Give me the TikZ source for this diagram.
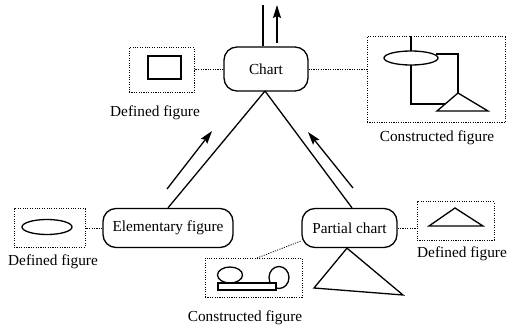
\documentclass[tikz,border=0pt]{standalone}
\usepackage{fontspec}
\setmainfont{Liberation Serif}
\usetikzlibrary{arrows.meta,calc}
\begin{document}
\begin{tikzpicture}[x=1pt,y=-1pt,
  lw/.style={line width=1.3pt},
  bigbox/.style={draw,lw,rounded corners=13pt,inner sep=0pt,font=\fontsize{15.3}{18}\selectfont},
  dotbox/.style={draw,line width=1pt,dash pattern=on 1.1pt off 1.3pt,inner sep=0pt},
  dotline/.style={line width=0.8pt,dash pattern=on 1.1pt off 1.3pt},
  lbl/.style={inner sep=0pt,font=\fontsize{15.3}{18}\selectfont},
  arr/.style={lw,-{Stealth[length=13pt,width=8pt,inset=2pt]}},
  shp/.style={lw}
]
\useasboundingbox (0,0) rectangle (507,329);

% main nodes
\node[bigbox,minimum width=84pt,minimum height=44pt] (chart) at (266,69) {Chart};
\node[bigbox,minimum width=130pt,minimum height=39pt] (elem) at (168,228) {Elementary figure};
\node[bigbox,minimum width=95pt,minimum height=39pt] (partial) at (349.5,228) {Partial chart};

% dotted boxes
\node[dotbox,minimum width=65pt,minimum height=45pt] (df1) at (161.5,70.5) {};
\node[dotbox,minimum width=138pt,minimum height=86pt] (cf1) at (436,80) {};
\node[dotbox,minimum width=71pt,minimum height=38pt] (df2) at (49.5,228) {};
\node[dotbox,minimum width=77pt,minimum height=38pt] (df3) at (455.5,221) {};
\node[dotbox,minimum width=97pt,minimum height=39pt] (cf2) at (253.5,277.5) {};

% labels
\node[lbl] (l1) at (155,113) {Defined figure};
\node[lbl] (l2) at (437,138) {Constructed figure};
\node[lbl] (l3) at (53,262) {Defined figure};
\node[lbl] (l4) at (462,254) {Defined figure};
\node[lbl] (l5) at (245,318) {Constructed figure};

% dotted connectors
\draw[dotline] (chart.west) -- (chart.west -| df1.east);
\draw[dotline] (chart.east) -- (chart.east -| cf1.west);
\draw[dotline] (elem.west) -- (elem.west -| df2.east);
\draw[dotline] (partial.east) -- (partial.east -| df3.west);
\coordinate (cf2t) at (257,258);
\draw[dotline] (cf2t) -- (partial.195);

% tree lines
\coordinate (ap) at (265,91);
\draw[lw] (ap) -- (elem.north);
\draw[lw] (ap) -- ($(partial.north)+(2.5,0)$);

% arrows beside tree lines
\coordinate (a1s) at (167,189);
\coordinate (a1e) at (212,131);
\coordinate (a2s) at (353,188);
\coordinate (a2e) at (308,132);
\draw[arr] (a1s) -- (a1e);
\draw[arr] (a2s) -- (a2e);

% top line and arrow
\coordinate (tl) at (263,5);
\draw[lw] (tl) -- (tl |- chart.north);
\coordinate (tas) at (277,43);
\coordinate (tae) at (277,5);
\draw[arr] (tas) -- (tae);

% contents of df1
\draw[shp] (148,56) rectangle (181,79);

% contents of cf1
\draw[shp] (411,58) ellipse [x radius=27, y radius=7];
\draw[shp] (411,51) -- (cf1.north -| 411,0);
\draw[shp] (436,54) -- (458,54) -- (458,93);
\draw[shp] (458,93) -- (488,111) -- (437,111) -- cycle;
\draw[shp] (411,65) -- (411,104) -- (445,104);

% contents of df2
\draw[shp] (47,227) ellipse [x radius=25, y radius=7.5];

% contents of df3
\draw[shp] (429,226) -- (455,208) -- (483,226) -- cycle;

% big triangle
\draw[shp] (partial.south -| 347,0) -- (314,288) -- (403,295) -- cycle;

% contents of cf2
\draw[shp] (230,275) ellipse [x radius=12.5, y radius=8];
\draw[shp] (279,277.5) ellipse [x radius=10, y radius=11];
\draw[shp,fill=white] (218,283) rectangle (276,290);
\end{tikzpicture}
\end{document}
